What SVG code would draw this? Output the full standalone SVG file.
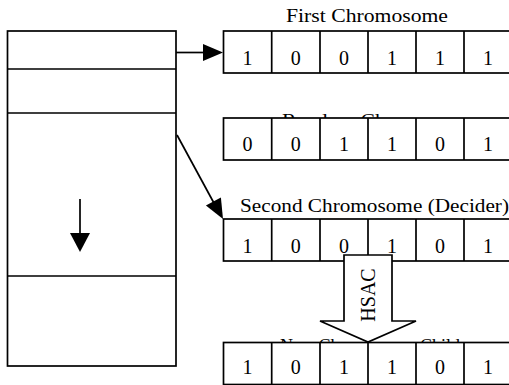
<svg xmlns="http://www.w3.org/2000/svg" width="509" height="385" viewBox="0 0 509 385">
<style>
.box{fill:#fff;stroke:#000;stroke-width:1.7}
.ln{stroke:#000;stroke-width:1.7;fill:none}
.hd{fill:#000;stroke:none}
.lbl{font-family:"Liberation Serif","Times New Roman",serif;font-size:18px;fill:#000}
.dig{font-family:"Liberation Serif","Times New Roman",serif;font-size:20px;fill:#000;text-anchor:middle}
</style>
<defs>
<g id="cells">
<rect class="box" x="223.5" y="0" width="290" height="42"/>
<path class="ln" d="M271.7 0V42M320 0V42M368 0V42M416 0V42M464 0V42"/>
</g>
</defs>
<rect width="509" height="385" fill="#fff"/>
<g id="stack">
<rect class="box" x="7.5" y="31" width="168.5" height="335"/>
<path class="ln" d="M7.5 69H176M7.5 113H176M7.5 276H176"/>
<line class="ln" x1="80" y1="199" x2="80" y2="234"/>
<polygon class="hd" points="70,233 90,233 80,252"/>
</g>
<g id="row1">
<text class="lbl" x="286" y="22" textLength="162" lengthAdjust="spacingAndGlyphs">First Chromosome</text>
<use href="#cells" y="31"/>
<g class="dig"><text x="247.6" y="65">1</text><text x="295.8" y="65">0</text><text x="344" y="65">0</text><text x="392" y="65">1</text><text x="440" y="65">1</text><text x="488" y="65">1</text></g>
</g>
<g id="row2">
<text class="lbl" x="282" y="127" textLength="195" lengthAdjust="spacingAndGlyphs">Random Chromosome</text>
<use href="#cells" y="118"/>
<g class="dig"><text x="247.6" y="151">0</text><text x="295.8" y="151">0</text><text x="344" y="151">1</text><text x="392" y="151">1</text><text x="440" y="151">0</text><text x="488" y="151">1</text></g>
</g>
<g id="row3">
<text class="lbl" x="240" y="212" textLength="269" lengthAdjust="spacingAndGlyphs">Second Chromosome (Decider)</text>
<use href="#cells" y="219"/>
<g class="dig"><text x="247.6" y="253">1</text><text x="295.8" y="253">0</text><text x="344" y="253">0</text><text x="392" y="253">1</text><text x="440" y="253">0</text><text x="488" y="253">1</text></g>
</g>
<g id="row4">
<text class="lbl" x="280" y="352" textLength="180" lengthAdjust="spacingAndGlyphs">New Chromosome Child</text>
<use href="#cells" y="342.5"/>
<g class="dig"><text x="247.6" y="374">1</text><text x="295.8" y="374">0</text><text x="344" y="374">1</text><text x="392" y="374">1</text><text x="440" y="374">0</text><text x="488" y="374">1</text></g>
</g>
<g id="connectors">
<line class="ln" x1="176" y1="52.5" x2="205" y2="52.5"/>
<polygon class="hd" points="203,44 223,52.5 203,61"/>
<line class="ln" x1="177" y1="135" x2="215" y2="205"/>
<polygon class="hd" points="205.9,205.6 223,219 220.9,197.4"/>
</g>
<g id="hsac">
<polygon class="box" points="344,255 392,255 392,321 416,321 368,342 320,321 344,321"/>
<text class="lbl" text-anchor="middle" transform="translate(375,295) rotate(-90)" style="font-size:20px">HSAC</text>
</g>
</svg>
